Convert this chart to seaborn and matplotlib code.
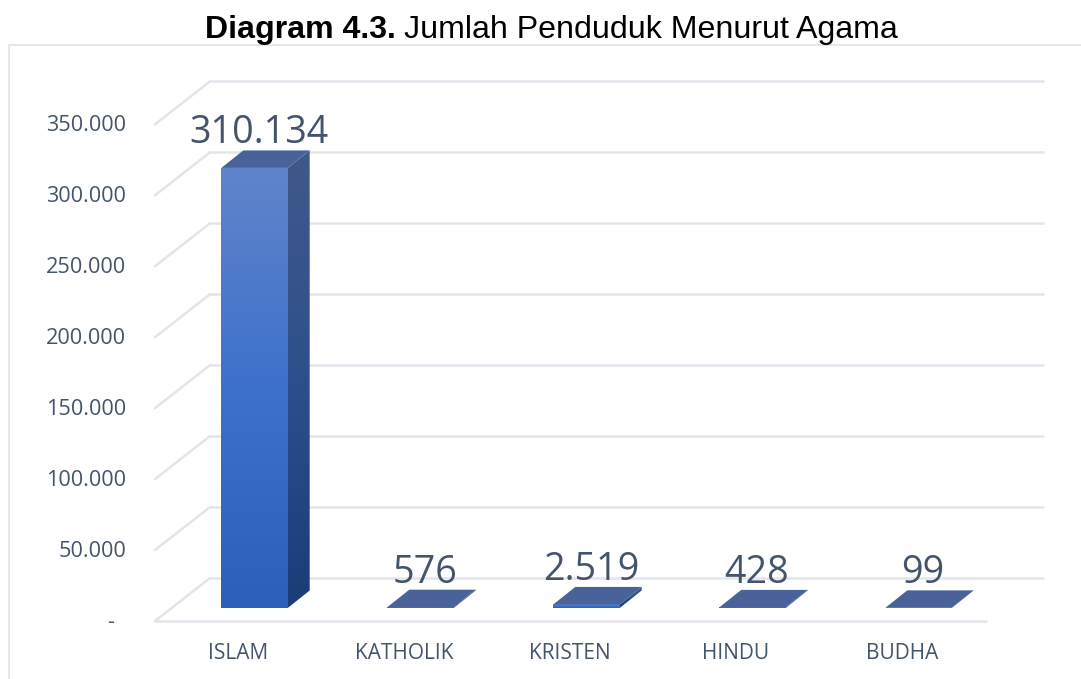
import matplotlib
matplotlib.use('Agg')
import matplotlib.pyplot as plt
import numpy as np
import seaborn as sns
from matplotlib.colors import LinearSegmentedColormap
from matplotlib.lines import Line2D
from matplotlib.patches import Polygon
from matplotlib.transforms import Affine2D, IdentityTransform

# data
religions = ['ISLAM', 'KATHOLIK', 'KRISTEN', 'HINDU', 'BUDHA']
population = [310134, 576, 2519, 428, 99]
y_ticks = [0, 50000, 100000, 150000, 200000, 250000, 300000, 350000]

W, H = 1081, 679
TEXT = '#44546A'
GRID = '#E2E5EC'
DEPTH_X, DEPTH_Y = 22, 17.5  # bar depth in pixels


def dotted(v):
    return f'{v:,}'.replace(',', '.')


sns.set_theme(style='white')
plt.rcParams['font.family'] = ['Open Sans', 'DejaVu Sans']

fig = plt.figure(figsize=(W / 100, H / 100), dpi=100, facecolor='white')
ax = fig.add_axes([171.5 / W, (H - 608) / H, 830 / W, (608 - 111.35) / H])
ax.patch.set_visible(False)

sns.barplot(x=religions, y=population, width=0.4, color='#3C6FCC',
            saturation=1, ax=ax, zorder=3, linewidth=0)
ax.set_xlim(-0.5, 4.5)
ax.set_ylim(0, 350000)
sns.despine(ax=ax, left=True, bottom=True)

# 3D looking floor and walls
px = IdentityTransform()
for v in y_ticks:
    y0 = ax.transData.transform((0, v))[1]
    ax.add_line(Line2D([155, 210], [y0 - 13, y0 + 30], color=GRID, lw=1.8,
                       transform=px, clip_on=False, zorder=1))
    ax.add_line(Line2D([210, 1043], [y0 + 30, y0 + 30], color=GRID, lw=1.8,
                       transform=px, clip_on=False, zorder=1))
y0 = ax.transData.transform((0, 0))[1]
ax.add_line(Line2D([155, 986], [y0 - 13, y0 - 13], color=GRID, lw=1.8,
                   transform=px, clip_on=False, zorder=1))

# bar faces
front_cmap = LinearSegmentedColormap.from_list('front', ['#6084CA', '#3E71CC', '#2C5FB8'])
side_cmap = LinearSegmentedColormap.from_list('side', ['#40598A', '#2F4F8C', '#1C3C78'])
ramp = np.linspace(0, 1, 256).reshape(-1, 1)
to_data = ax.transData.inverted()

for bar, value in zip(ax.patches, population):
    x0, x1 = bar.get_x(), bar.get_x() + bar.get_width()
    (lx, by), (rx, ty) = ax.transData.transform([(x0, 0), (x1, value)])

    im = ax.imshow(ramp, cmap=front_cmap, aspect='auto', extent=(x0, x1, 0, value), zorder=3)
    im.set_clip_path(bar)

    side = Polygon([(rx, by), (rx + DEPTH_X, by + DEPTH_Y), (rx + DEPTH_X, ty + DEPTH_Y), (rx, ty)],
                   transform=px, fc='none', ec='none', clip_on=False)
    ax.add_patch(side)
    (sx0, sy0), (sx1, sy1) = to_data.transform([(rx, by), (rx + DEPTH_X, ty + DEPTH_Y)])
    im = ax.imshow(ramp, cmap=side_cmap, aspect='auto', extent=(sx0, sx1, sy0, sy1), zorder=3)
    im.set_clip_path(side)

    ax.add_patch(Polygon([(lx, ty), (rx, ty), (rx + DEPTH_X, ty + DEPTH_Y), (lx + DEPTH_X, ty + DEPTH_Y)],
                         transform=px, fc='#49639A', ec='none', clip_on=False, zorder=4))

    ax.annotate(dotted(value), ((x0 + x1) / 2, value), xytext=(4.5, 34.5), textcoords='offset pixels',
                ha='center', va='center', fontsize=27.2, color=TEXT, zorder=5, annotation_clip=False)

ax.set_xlim(-0.5, 4.5)
ax.set_ylim(0, 350000)

# axis labels, shifted to the front plane
ax.set_yticks(y_ticks)
ax.set_yticklabels(['-  ' if v == 0 else dotted(v) for v in y_ticks], fontsize=15.6, color=TEXT)
ax.tick_params(axis='y', length=0, pad=32.5)
for label in ax.get_yticklabels():
    label.set_transform(label.get_transform() + Affine2D().translate(0, -12))
ax.tick_params(axis='x', length=0, pad=25.5, labelsize=15, labelcolor=TEXT)
for label in ax.get_xticklabels():
    label.set_transform(label.get_transform() + Affine2D().translate(-16.5, 0))
ax.set_xlabel('')
ax.set_ylabel('')

# chart frame
fig.add_artist(Line2D([8.5 / W, 8.5 / W, 1], [0, (H - 44.5) / H, (H - 44.5) / H], color='#DFE3EA', lw=1.2))

# title
fig.canvas.draw()
renderer = fig.canvas.get_renderer()
t1 = fig.text(205 / W, (H - 38) / H, 'Diagram 4.3.', family='Liberation Sans', weight='bold',
              fontsize=23.1, color='black', ha='left', va='baseline')
x_end = t1.get_window_extent(renderer).x1
fig.text((x_end + 8) / W, (H - 38) / H, 'Jumlah Penduduk Menurut Agama', family='Liberation Sans',
         fontsize=23.1, color='black', ha='left', va='baseline')

fig.savefig('out.png', dpi=100)
